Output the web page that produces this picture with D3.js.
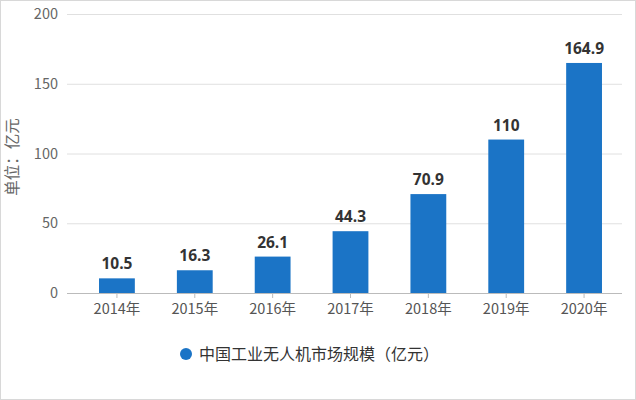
<!DOCTYPE html>
<html><head><meta charset="utf-8">
<script src="https://cdn.jsdelivr.net/npm/d3@7"></script>
<style>body{margin:0;background:#fff}svg{display:block}</style>
</head><body>
<script>
const categories = ["2014年","2015年","2016年","2017年","2018年","2019年","2020年"];
const values = [10.5,16.3,26.1,44.3,70.9,110,164.9];
const valueLabels = ["10.5","16.3","26.1","44.3","70.9","110","164.9"];
const yTicks = [0,50,100,150,200];
const seriesName = "中国工业无人机市场规模（亿元）";
const yTitle = "单位：亿元";

const W=636,H=400;
const svg=d3.select("body").append("svg").attr("width",W).attr("height",H);
svg.append("rect").attr("x",0.5).attr("y",0.5).attr("width",W-1).attr("height",H-1).attr("fill","#fff").attr("stroke","#d8d8d8");
const font="'Noto Sans CJK SC','Open Sans',sans-serif";
const x=d3.scaleBand().domain(categories).range([78,623]).paddingInner(0.54).paddingOuter(0.27);
const y=d3.scaleLinear().domain([0,200]).range([293,14]);

const gy=svg.append("g").attr("transform","translate(67,0)")
 .call(d3.axisLeft(y).tickValues(yTicks).tickSize(-555).tickPadding(9));
gy.select(".domain").remove();
gy.selectAll(".tick line").attr("stroke","#e0e0e0");
gy.selectAll(".tick text").attr("fill","#666").attr("font-size",14.5).attr("font-family",font);

const gx=svg.append("g").attr("transform","translate(0,293)")
 .call(d3.axisBottom(x).tickSize(5).tickPadding(6));
gx.select(".domain").attr("d","M67,0.5H622").attr("stroke","#bbb");
gx.selectAll(".tick line").attr("stroke","#bbb");
gx.selectAll(".tick text").attr("fill","#555").attr("font-size",14.5).attr("font-family",font);

svg.append("g").selectAll("rect").data(values).join("rect")
 .attr("x",(d,i)=>x(categories[i])).attr("width",x.bandwidth())
 .attr("y",d=>y(d)).attr("height",d=>y(0)-y(d)).attr("fill","#1b74c6");

svg.append("g").selectAll("text").data(values).join("text")
 .attr("x",(d,i)=>x(categories[i])+x.bandwidth()/2).attr("y",d=>y(d)-9)
 .attr("text-anchor","middle").attr("font-size",15.5).attr("font-weight","bold")
 .attr("fill","#333").attr("font-family","'Open Sans',sans-serif").text((d,i)=>valueLabels[i]);

svg.append("text").attr("transform","translate(18,157) rotate(-90)").attr("text-anchor","middle")
 .attr("font-size",15.5).attr("fill","#666").attr("font-family",font).text(yTitle);

svg.append("circle").attr("cx",186).attr("cy",354).attr("r",6).attr("fill","#1b74c6");
svg.append("text").attr("x",199).attr("y",360).attr("font-size",16).attr("fill","#333")
 .attr("font-family",font).text(seriesName);
</script>
</body></html>
